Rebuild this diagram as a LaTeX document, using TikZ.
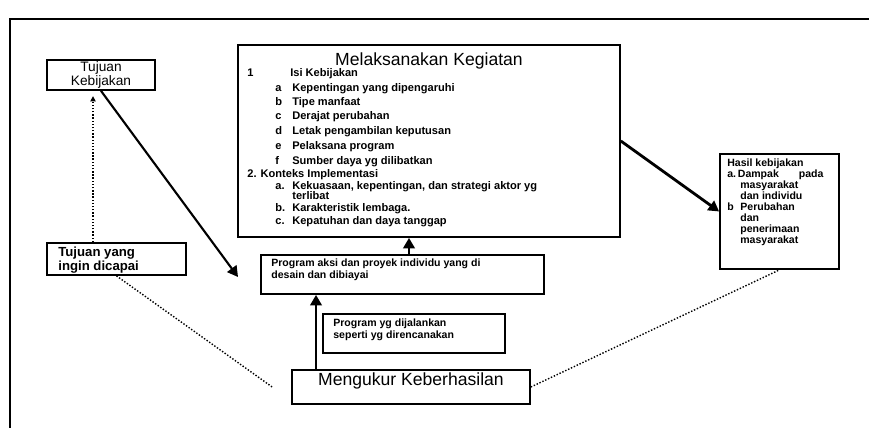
\documentclass[tikz,border=0pt]{standalone}
\usepackage{fontspec}
\setmainfont{Liberation Sans}
\usetikzlibrary{arrows.meta,positioning}

\begin{document}
\begin{tikzpicture}[x=0.02cm,y=-0.02cm,
  box/.style={draw,line width=1pt,inner sep=0pt},
  isi/.style={inner sep=0pt,anchor=west,font=\bfseries\fontsize{6.3}{7.5}\selectfont},
  kecil/.style={inner sep=0pt,anchor=north west,align=left,font=\bfseries\fontsize{6}{6.8}\selectfont},
  panah/.style={-{Triangle[length=6pt,width=6.5pt]},line width=1.6pt},
  titik/.style={densely dotted,line width=0.8pt}]
  \useasboundingbox (0,0) rectangle (869,428);
  \draw[line width=0.8pt] (10,428) -- (10,19) -- (869,19);

  % kotak-kotak
  \node[box,minimum width=7.64cm,minimum height=3.84cm] (kegiatan) at (429,141) {};
  \node[box,minimum width=2.16cm,minimum height=0.6cm,align=center,
        font=\fontsize{7.8}{7.8}\selectfont] (tujuan) at (101,75) {Tujuan\\Kebijakan};
  \node[box,minimum width=2.78cm,minimum height=0.64cm] (ingin) at (116.5,259) {};
  \node[box,minimum width=5.66cm,minimum height=0.78cm] (aksi) at (402.5,274.5) {};
  \node[box,minimum width=3.64cm,minimum height=0.78cm] (jalan) at (414,333.5) {};
  \node[box,minimum width=4.76cm,minimum height=0.68cm] (ukur) at (411,387) {};
  \node[box,minimum width=2.38cm,minimum height=2.3cm] (hasil) at (779.5,211.5) {};

  % teks
  \node[inner sep=0pt,font=\fontsize{10}{12}\selectfont] (judul) at (429,61) {Melaksanakan Kegiatan};
  \node[isi] (isi0) at (247,74) {\makebox[8.6mm][l]{1}Isi Kebijakan};
  \foreach \y/\h/\t [count=\i] in {89/a/Kepentingan yang dipengaruhi,
      103/b/Tipe manfaat, 117/c/Derajat perubahan,
      132/d/Letak pengambilan keputusan, 147/e/Pelaksana program,
      162/f/Sumber daya yg dilibatkan}
    \node[isi] (isi\i) at (275,\y) {\makebox[3.4mm][l]{\h}\t};
  \node[isi] (konteks0) at (247,175) {2. Konteks Implementasi};
  \node[isi] (konteks1) at (275,187) {\makebox[3.4mm][l]{a.}Kekuasaan, kepentingan, dan strategi aktor yg};
  \node[isi] (konteks1b) at (292,196) {terlibat};
  \node[isi] (konteks2) at (275,209) {\makebox[3.4mm][l]{b.}Karakteristik lembaga.};
  \node[isi] (konteks3) at (275,222) {\makebox[3.4mm][l]{c.}Kepatuhan dan daya tanggap};

  \node[kecil,font=\bfseries\fontsize{7.5}{8}\selectfont] (ingin-t) at (58,247) {Tujuan yang\\ingin dicapai};
  \node[kecil] (aksi-t) at (271,259) {Program aksi dan proyek individu yang di\\desain dan dibiayai};
  \node[kecil] (jalan-t) at (333,319) {Program yg dijalankan\\seperti yg direncanakan};
  \node[inner sep=0pt,font=\fontsize{10}{12}\selectfont] (ukur-t) at (411,381) {Mengukur Keberhasilan};
  \node[kecil,font=\bfseries\fontsize{6}{6.2}\selectfont] (hasil-t) at (727,159)
    {Hasil kebijakan\\a.\,Dampak\hspace{4mm}pada\\\hspace*{2.6mm}masyarakat\\\hspace*{2.6mm}dan individu\\
     \makebox[2.6mm][l]{b}Perubahan\\\hspace*{2.6mm}dan\\\hspace*{2.6mm}penerimaan\\\hspace*{2.6mm}masyarakat};

  % panah
  \coordinate (ujung) at (238,277);
  \coordinate (kiri) at ([xshift=-0.38cm]ukur.west);
  \draw[titik,-{Triangle[length=3pt,width=3pt]},shorten >=3pt]
    ([xshift=-0.16cm]tujuan.south |- ingin.north) -- ([xshift=-0.16cm]tujuan.south);
  \draw[panah,line width=1.2pt] (tujuan.south) -- (ujung);
  \draw[panah] ([xshift=0.13cm]aksi.north) -- ([xshift=0.13cm]aksi.north |- kegiatan.south);
  \draw[panah] ([xshift=-1.9cm]ukur.north) -- ([xshift=-1.9cm]ukur.north |- aksi.south);
  \draw[panah] (kegiatan.east) -- (hasil.west);
  \draw[titik] (ingin.south) -- (kiri);
  \draw[titik] (ukur.east) -- (hasil.south);
\end{tikzpicture}
\end{document}
